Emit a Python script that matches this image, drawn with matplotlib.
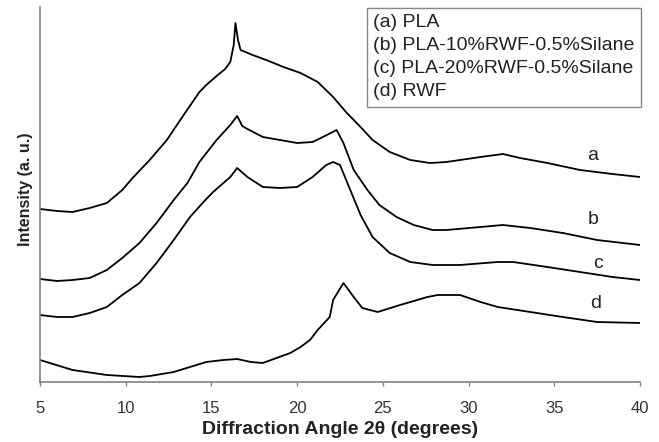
import matplotlib
matplotlib.use('Agg')
import matplotlib.pyplot as plt

plt.rcParams['font.family'] = ['Liberation Sans', 'DejaVu Sans']

# 2θ (degrees) and intensity (a. u., offset curves)
pla_x = [5.0, 6.0, 6.9, 7.9, 8.9, 9.8, 10.4, 11.4, 12.4, 13.3, 14.3, 14.7, 15.3, 15.8, 16.1,
         16.3, 16.4, 16.55, 16.7, 17.4, 18.2, 19.2, 20.2, 21.2, 22.1, 22.9, 23.7, 24.4,
         25.4, 26.6, 27.75, 28.7, 30.7, 32.0, 33.0, 34.6, 36.5, 38.4, 40.0]
pla_y = [173, 171, 170, 174, 179, 192, 204, 222, 242, 265, 290, 297, 306, 313, 320,
         337, 359, 342, 332, 327, 322, 315, 309, 300, 285, 269, 255, 242,
         230, 222, 219, 220, 225, 228, 224, 219, 212, 208, 205]

pla10_x = [5.0, 6.0, 6.9, 7.9, 8.9, 9.8, 10.8, 11.8, 12.8, 13.6, 14.3, 15.3, 16.1, 16.5,
           16.8, 17.1, 18.0, 19.0, 20.0, 20.9, 21.5, 22.3, 22.7, 23.3, 24.1, 24.8, 25.8,
           26.8, 27.9, 28.7, 30.7, 32.0, 33.6, 35.5, 37.5, 40.0]
pla10_y = [103, 101, 102, 104, 112, 124, 139, 159, 182, 199, 220, 242, 257, 266,
           256, 253, 245, 242, 239, 240, 245, 252, 239, 212, 192, 177, 165,
           157, 152, 152, 155, 157, 154, 149, 142, 137]

pla20_x = [5.0, 6.0, 6.9, 7.9, 8.9, 9.8, 10.8, 11.8, 12.8, 13.75, 14.7, 15.1, 16.1, 16.5,
           17.1, 18.0, 19.0, 20.0, 20.9, 21.7, 22.1, 22.5, 23.1, 23.7, 24.4, 25.4, 26.6,
           27.9, 29.5, 31.7, 32.6, 34.6, 36.5, 38.4, 40.0]
pla20_y = [67, 65, 65, 69, 75, 87, 99, 119, 142, 165, 183, 190, 205, 214,
           205, 195, 194, 195, 205, 217, 220, 217, 192, 167, 145, 129, 120,
           117, 117, 120, 120, 115, 110, 105, 102]

rwf_x = [5.0, 6.9, 8.9, 10.8, 11.4, 12.8, 13.75, 14.7, 15.7, 16.5, 17.3, 18.0, 19.6,
         20.2, 20.75, 21.2, 21.9, 22.1, 22.7, 23.3, 23.8, 24.7, 26.0, 27.6, 28.2, 29.5,
         30.7, 31.7, 33.6, 35.5, 37.5, 40.0]
rwf_y = [22, 12, 7, 5, 6, 10, 15, 20, 22, 23, 20, 19, 29,
         35, 42, 52, 65, 82, 99, 85, 74, 70, 77, 85, 87, 87,
         80, 75, 70, 65, 60, 59]

series_labels = ['(a) PLA', '(b) PLA-10%RWF-0.5%Silane',
                 '(c) PLA-20%RWF-0.5%Silane', '(d) RWF']
curve_tags = ['a', 'b', 'c', 'd']
tag_x = [37.26, 37.26, 37.55, 37.4]
tag_y = [227, 162, 119, 78]

fig = plt.figure(figsize=(6.59, 4.42), dpi=100)
ax = fig.add_axes([40 / 659, 60 / 442, 600 / 659, 375 / 442])

for xs, ys in [(pla_x, pla_y), (pla10_x, pla10_y), (pla20_x, pla20_y), (rwf_x, rwf_y)]:
    ax.plot(xs, ys, color='black', linewidth=1.3)

for t, tx, ty in zip(curve_tags, tag_x, tag_y):
    ax.text(tx, ty, t, fontsize=14, ha='center', va='center', color='#222222')

# legend box (text only, no line handles)
ax.text((373 - 40) / 600, (382 - 14) / 375, '\n'.join(series_labels),
        transform=ax.transAxes, fontsize=14, ha='left', va='top', linespacing=1.47,
        color='#222222',
        bbox=dict(boxstyle='square,pad=0.32', facecolor='white', edgecolor='#888888',
                  linewidth=1))

ax.set_xlim(5, 40)
ax.set_ylim(0, 375)
ax.set_xticks([5, 10, 15, 20, 25, 30, 35, 40])
ax.set_yticks([])
ax.tick_params(axis='x', direction='out', length=3, width=1, color='#808080',
               pad=11, labelsize=12, labelcolor='#333333')
for s in ['top', 'right']:
    ax.spines[s].set_visible(False)
for s in ['left', 'bottom']:
    ax.spines[s].set_color('#808080')
    ax.spines[s].set_linewidth(1.2)

ax.set_xlabel('Diffraction Angle 2θ (degrees)', fontsize=14, fontweight='bold',
              color='#222222')
ax.xaxis.set_label_coords(0.5, -0.105)
ax.set_ylabel('Intensity (a. u.)', fontsize=11.5, fontweight='bold', color='#222222')
ax.yaxis.set_label_coords(-0.012, 0.515)

fig.savefig('out.png', dpi=100)
